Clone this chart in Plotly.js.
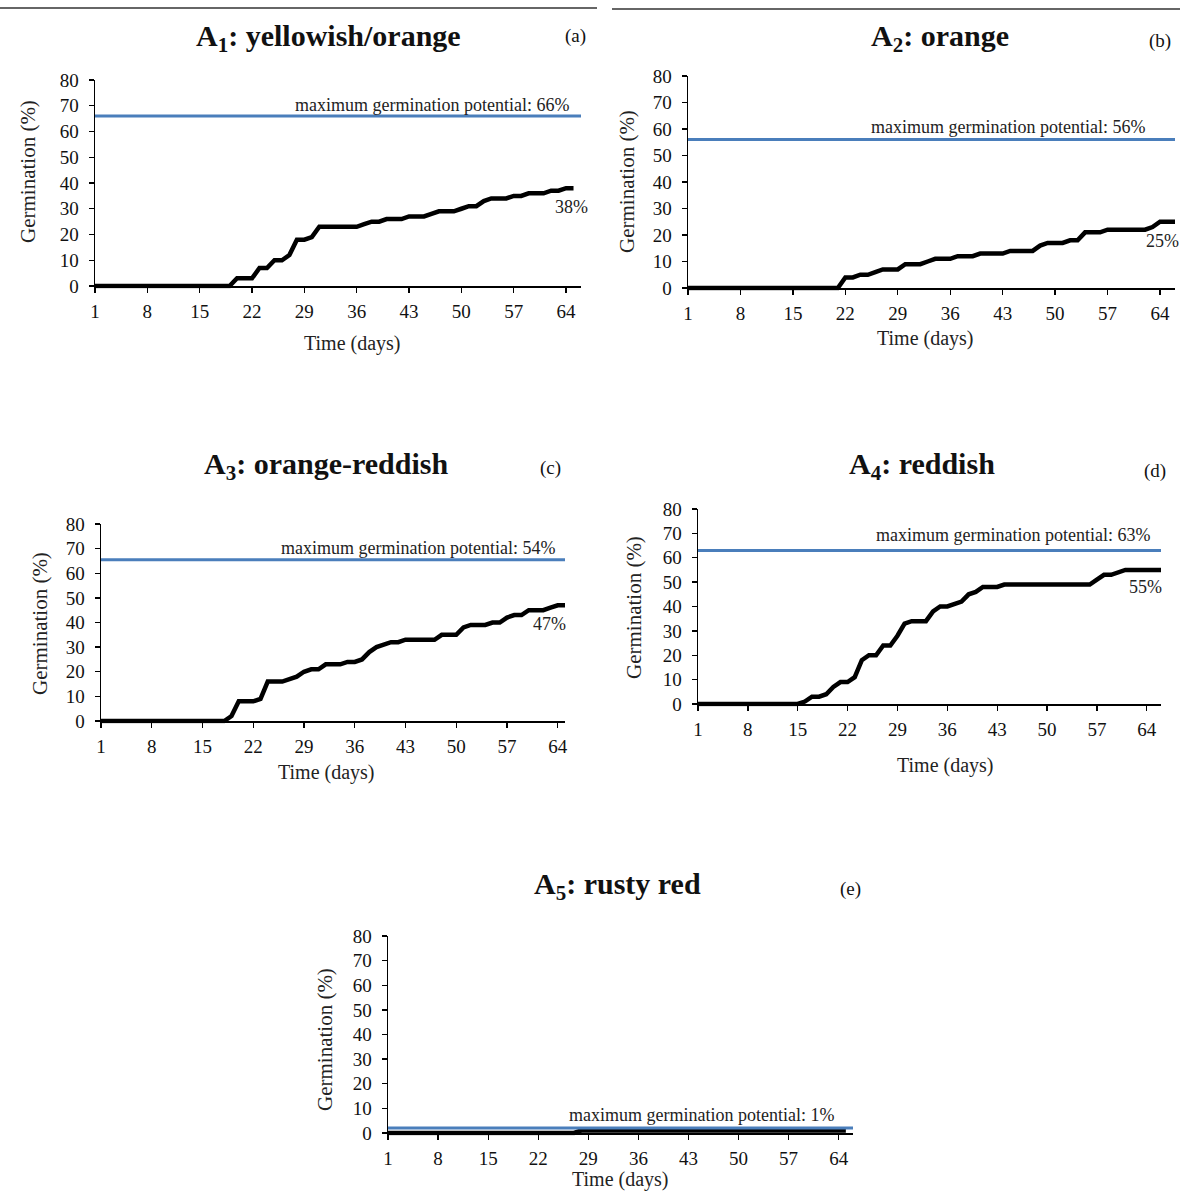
<!DOCTYPE html>
<html>
<head>
<meta charset="utf-8">
<script src="https://cdn.plot.ly/plotly-3.0.1.min.js"></script>
<style>
  html, body { margin: 0; padding: 0; background: #ffffff; }
  #chart { width: 1180px; height: 1191px; }
</style>
</head>
<body>
<div id="chart"></div>
<script>
// ---------- DATA ----------
const days = [1,2,3,4,5,6,7,8,9,10,11,12,13,14,15,16,17,18,19,20,21,22,23,24,25,26,27,28,29,30,31,32,33,34,35,36,37,38,39,40,41,42,43,44,45,46,47,48,49,50,51,52,53,54,55,56,57,58,59,60,61,62,63,64,65,66];
const tickDays = [1,8,15,22,29,36,43,50,57,64];
const yTicks = [0,10,20,30,40,50,60,70,80];

const panelTitles = ["A<sub>1</sub>: yellowish/orange", "A<sub>2</sub>: orange", "A<sub>3</sub>: orange-reddish", "A<sub>4</sub>: reddish", "A<sub>5</sub>: rusty red"];
const panelLetters = ["(a)", "(b)", "(c)", "(d)", "(e)"];
const maxLabels = ["maximum germination potential: 66%", "maximum germination potential: 56%", "maximum germination potential: 54%", "maximum germination potential: 63%", "maximum germination potential: 1%"];
const finalLabels = ["38%", "25%", "47%", "55%", ""];
const maxLineValues = [66, 56, 65.5, 63, 2];

const germA1 = [0,0,0,0,0,0,0,0,0,0,0,0,0,0,0,0,0,0,0,
  3,3,3,7,7,10,10,12,18,18,19,23,23,23,23,23,23,24,25,25,26,26,26,27,27,27,28,29,29,29,30,31,31,33,34,34,34,35,35,36,36,36,37,37,38,38];
const germA2 = [0,0,0,0,0,0,0,0,0,0,0,0,0,0,0,0,0,0,0,0,0,
  4,4,5,5,6,7,7,7,9,9,9,10,11,11,11,12,12,12,13,13,13,13,14,14,14,14,16,17,17,17,18,18,21,21,21,22,22,22,22,22,22,23,25,25,25];
const germA3 = [0,0,0,0,0,0,0,0,0,0,0,0,0,0,0,0,0,0,
  2,8,8,8,9,16,16,16,17,18,20,21,21,23,23,23,24,24,25,28,30,31,32,32,33,33,33,33,33,35,35,35,38,39,39,39,40,40,42,43,43,45,45,45,46,47,47];
const germA4 = [0,0,0,0,0,0,0,0,0,0,0,0,0,0,0,
  1,3,3,4,7,9,9,11,18,20,20,24,24,28,33,34,34,34,38,40,40,41,42,45,46,48,48,48,
  49,49,49,49,49,49,49,49,49,49,49,49,49,
  51,53,53,54,55,55,55,55,55,55];
const germA5 = [0,0,0,0,0,0,0,0,0,0,0,0,0,0,0,0,0,0,0,0,0,0,0,0,0,0,0,
  1,1,1,1,1,1,1,1,1,1,1,1,1,1,1,1,1,1,1,1,1,1,1,1,1,1,1,1,1,1,1,1,1,1,1,1,1,1];
const seriesList = [germA1, germA2, germA3, germA4, germA5];

// ---------- LAYOUT (pixel geometry of each panel) ----------
const W = 1180, H = 1191;
const FONT = "Liberation Serif, 'Times New Roman', Times, serif";
const px = v => v / W;
const py = v => 1 - v / H;

// x0: pixel of day 1, x1: right end of axis, xmax: last category shown,
// top: pixel of 80%, zero: pixel of 0%
const geom = [
  {x0: 95,  x1: 581,  xmax: 66, top: 80,  zero: 286,
   title: [328, 38], letter: [575, 36], maxLab: [432, 105], endLab: [571, 207], yTitle: [28, 172], xTitle: [352, 343]},
  {x0: 688, x1: 1175, xmax: 66, top: 76,  zero: 288,
   title: [940, 38], letter: [1160, 41], maxLab: [1008, 127], endLab: [1162, 241], yTitle: [627, 182], xTitle: [925, 338]},
  {x0: 101, x1: 565,  xmax: 65, top: 524, zero: 721,
   title: [326, 466], letter: [550, 468], maxLab: [418, 548], endLab: [549, 624], yTitle: [40, 624], xTitle: [326, 772]},
  {x0: 698, x1: 1161, xmax: 66, top: 509, zero: 704,
   title: [922, 466], letter: [1155, 471], maxLab: [1013, 535], endLab: [1145, 587], yTitle: [634, 608], xTitle: [945, 765]},
  {x0: 388, x1: 853,  xmax: 66, top: 936, zero: 1133,
   title: [617, 886], letter: [850, 889], maxLab: [701, 1115], endLab: [860, 1120], yTitle: [325, 1040], xTitle: [620, 1179]}
];

const YMIN = -1;
const traces = [];
const layout = {
  width: W, height: H,
  margin: {l: 0, r: 0, t: 0, b: 0, pad: 0},
  paper_bgcolor: "#ffffff",
  plot_bgcolor: "rgba(0,0,0,0)",
  showlegend: false,
  font: {family: FONT, color: "#000000", size: 19},
  annotations: [],
  shapes: [
    {type: "line", xref: "paper", yref: "paper", x0: 0, x1: px(597), y0: py(8), y1: py(8), line: {color: "#333333", width: 1.5}},
    {type: "line", xref: "paper", yref: "paper", x0: px(612), x1: 1, y0: py(9), y1: py(9), line: {color: "#333333", width: 1.5}}
  ]
};

geom.forEach((g, i) => {
  const n = i + 1;
  const xs = n === 1 ? "" : String(n);
  const xName = "x" + xs, yName = "y" + xs;
  const vals = seriesList[i];
  const dx = days.slice(0, vals.length);
  const pxPerUnit = (g.zero - g.top) / 80;
  const bottomPx = g.zero + (0 - YMIN) * pxPerUnit;

  traces.push({
    type: "scatter", mode: "lines", x: dx, y: vals,
    xaxis: xName, yaxis: yName,
    line: {color: "#000000", width: 4.5, shape: "linear"},
    hoverinfo: "x+y"
  });
  traces.push({
    type: "scatter", mode: "lines",
    x: [days[0], g.xmax], y: [maxLineValues[i], maxLineValues[i]],
    xaxis: xName, yaxis: yName,
    line: {color: "#4a7ebb", width: 3},
    hoverinfo: "y"
  });

  layout["xaxis" + xs] = {
    domain: [px(g.x0), px(g.x1)],
    range: [1, g.xmax],
    anchor: "free",
    position: py(g.zero),
    tickmode: "array", tickvals: tickDays, ticktext: tickDays.map(String),
    ticks: "outside", ticklen: 5, tickwidth: 1.3, tickcolor: "#000000",
    showline: true, linecolor: "#000000", linewidth: 1.5,
    showgrid: false, zeroline: false,
    tickfont: {family: FONT, size: 19, color: "#111111"},
    ticklabelstandoff: 3,
    fixedrange: true
  };
  layout["yaxis" + xs] = {
    domain: [py(bottomPx), py(g.top)],
    range: [YMIN, 80],
    anchor: xName,
    tickmode: "array", tickvals: yTicks, ticktext: yTicks.map(String),
    ticks: "outside", ticklen: 5, tickwidth: 1.3, tickcolor: "#000000",
    showline: true, linecolor: "#000000", linewidth: 1.5,
    showgrid: false, zeroline: false,
    tickfont: {family: FONT, size: 19, color: "#111111"},
    ticklabelstandoff: 6,
    fixedrange: true
  };

  const ann = (pos, text, opts) => Object.assign({
    xref: "paper", yref: "paper", x: px(pos[0]), y: py(pos[1]),
    xanchor: "center", yanchor: "middle", showarrow: false, text: text
  }, opts);

  layout.annotations.push(ann(g.title, "<b>" + panelTitles[i] + "</b>", {font: {family: FONT, size: 30, color: "#111111"}}));
  layout.annotations.push(ann(g.letter, panelLetters[i], {font: {family: FONT, size: 19, color: "#111111"}}));
  layout.annotations.push(ann(g.maxLab, maxLabels[i], {font: {family: FONT, size: 18, color: "#222222"}}));
  if (finalLabels[i]) {
    layout.annotations.push(ann(g.endLab, finalLabels[i], {font: {family: FONT, size: 18, color: "#222222"}}));
  }
  layout.annotations.push(ann(g.yTitle, "Germination (%)", {textangle: -90, font: {family: FONT, size: 21, color: "#222222"}}));
  layout.annotations.push(ann(g.xTitle, "Time (days)", {font: {family: FONT, size: 20, color: "#222222"}}));
});

Plotly.newPlot("chart", traces, layout, {displayModeBar: false, staticPlot: true});
</script>
</body>
</html>
